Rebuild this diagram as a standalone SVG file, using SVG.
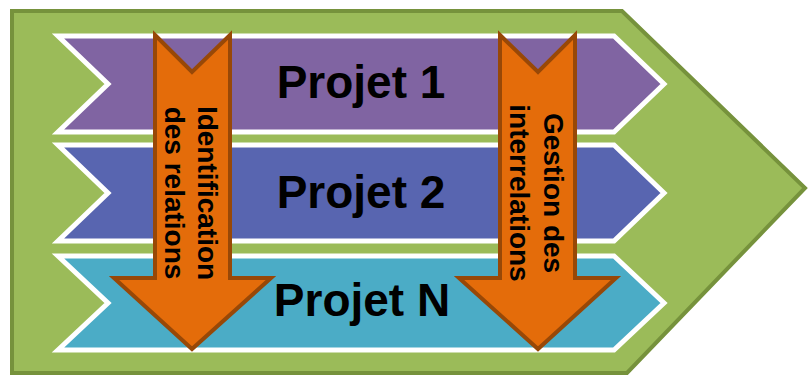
<svg xmlns="http://www.w3.org/2000/svg" width="808" height="376" viewBox="0 0 808 376">
<style>
.band{stroke:#FFFFFF;stroke-width:5;stroke-linejoin:miter}
.arrow{fill:#E46C0A;stroke:#984807;stroke-width:4;stroke-linejoin:miter}
.big{font-family:"Liberation Sans",Arial,sans-serif;font-weight:bold;font-size:46px;fill:#000;text-anchor:middle}
.lbl{font-family:"Liberation Sans",Arial,sans-serif;font-weight:bold;font-size:28px;fill:#000;text-anchor:middle}
</style>
<rect width="808" height="376" fill="#FFFFFF"/>
<g id="frame">
<polygon points="12,11 622,11 805,188 627,373 12,373" fill="#9BBB59" stroke="#76923C" stroke-width="4"/>
</g>
<g id="projet1">
<polygon class="band" fill="#8064A2" points="58,36 614,36 664,84 614,132 58,132 108,84"/>
<text class="big" x="361" y="98">Projet 1</text>
</g>
<g id="projet2">
<polygon class="band" fill="#5865B0" points="58,145 614,145 664,193 614,241 58,241 108,193"/>
<text class="big" x="361" y="208">Projet 2</text>
</g>
<g id="projetN">
<polygon class="band" fill="#4BACC6" points="58,256 614,256 664,303 614,350 58,350 108,303"/>
<text class="big" x="362" y="316">Projet N</text>
</g>
<g id="connectors">
<g id="arrow-identification">
<polygon class="arrow" points="155,35 192,72 230,35 230,278 271,278 192,349 114,278 155,278"/>
<text class="lbl" transform="translate(198,193) rotate(90)">Identification</text>
<text class="lbl" transform="translate(165,193) rotate(90)">des relations</text>
</g>
<g id="arrow-gestion">
<polygon class="arrow" points="500,35 538,72 575,35 575,278 616,278 538,349 459,278 500,278"/>
<text class="lbl" transform="translate(544,193) rotate(90)">Gestion des</text>
<text class="lbl" transform="translate(510,193) rotate(90)">interrelations</text>
</g>
</g>
</svg>
